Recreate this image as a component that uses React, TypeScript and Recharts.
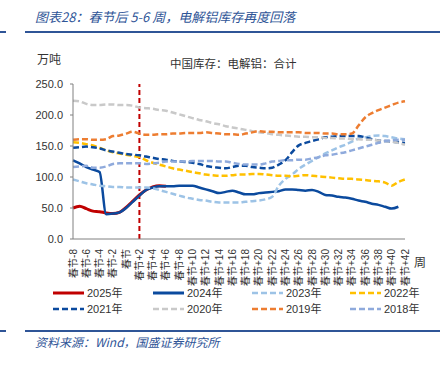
import { LineChart, Line, XAxis, YAxis, ReferenceLine } from 'recharts';

// 春节前后周次（-8 到 +42）
const weeks = [
  '春节-8', '春节-7', '春节-6', '春节-5', '春节-4', '春节-3', '春节-2', '春节-1', '春节',
  '春节+1', '春节+2', '春节+3', '春节+4', '春节+5', '春节+6', '春节+7', '春节+8', '春节+9',
  '春节+10', '春节+11', '春节+12', '春节+13', '春节+14', '春节+15', '春节+16', '春节+17',
  '春节+18', '春节+19', '春节+20', '春节+21', '春节+22', '春节+23', '春节+24', '春节+25',
  '春节+26', '春节+27', '春节+28', '春节+29', '春节+30', '春节+31', '春节+32', '春节+33',
  '春节+34', '春节+35', '春节+36', '春节+37', '春节+38', '春节+39', '春节+40', '春节+41',
  '春节+42',
];
const yTicks = [0, 50, 100, 150, 200, 250];
const markWeek = '春节+2';

const v2025 = [50, 53, 49, 45, 44, 42, 41, 43, 51, 61, 71, 79, 84, 86, 85];
const v2024 = [
  127, 122, 116, 112, 108, 40, 41, 43, 50, 60, 70, 79, 83, 85, 85, 85, 86, 86, 86, 83,
  80, 77, 74, 76, 78, 75, 72, 72, 74, 75, 76, 77, 80, 80, 79, 78, 79, 76, 71, 70,
  68, 67, 65, 62, 60, 57, 55, 52, 49, 52,
];
const v2023 = [
  96, 93, 90, 88, 86, 85, 84, 84, 83, 83, 83, 83, 82, 79, 76, 73, 70, 67, 65, 63,
  62, 60, 59, 59, 59, 59, 60, 61, 62, 64, 68, 86, 97, 104, 113, 120, 126, 132, 138, 143,
  148, 152, 157, 162, 164, 166, 167, 166, 164, 162, 161,
];
const v2022 = [
  156, 155, 153, 151, 147, 143, 140, 138, 136, 134, 132, 127, 123, 120, 117, 114, 112, 110, 108, 106,
  104, 103, 102, 102, 103, 104, 104, 105, 105, 104, 103, 102, 102, 101, 102, 103, 102, 101, 100, 99,
  98, 97, 97, 96, 95, 94, 93, 91, 86, 92, 96,
];
const v2021 = [
  147, 148, 149, 148, 146, 143, 141, 139, 137, 136, 135, 133, 131, 129, 128, 126, 125, 124, 123, 121,
  118, 116, 115, 114, 116, 118, 118, 116, 115, 114, 115, 120, 127, 140, 151, 155, 158, 161, 164, 165,
  166, 166, 166, 166, 164, 161, 159, 158, 157, 156, 155,
];
const v2020 = [
  223, 222, 218, 216, 216, 217, 217, 216, 216, 215, 212, 211, 210, 208, 207, 204, 201, 198, 195, 192,
  190, 187, 185, 182, 180, 178, 176, 174, 172, 171, 169, 168, 167, 166, 165, 165, 164, 164, 163, 163,
  162, 162, 161, 161, 160, 160, 159, 158, 157, 155, 152,
];
const v2019 = [
  160, 161, 161, 160, 160, 161, 166, 167, 170, 173, 170, 168, 168, 169, 169, 170, 170, 171, 171, 171,
  172, 171, 170, 169, 169, 168, 170, 172, 174, 173, 173, 172, 172, 172, 172, 171, 171, 171, 170, 170,
  169, 169, 170, 183, 196, 203, 208, 212, 216, 220, 222,
];
const v2018 = [
  116, 117, 118, 115, 115, 117, 121, 122, 122, 122, 122, 121, 122, 123, 125, 125, 125, 125, 126, 126,
  126, 126, 125, 125, 123, 121, 120, 120, 120, 122, 125, 126, 127, 127, 128, 128, 130, 132, 135, 136,
  138, 140, 143, 146, 149, 152, 155, 158, 159, 160, 160,
];

const series = [
  { name: '2025年', values: v2025, color: '#C00000', dash: undefined, width: 3 },
  { name: '2024年', values: v2024, color: '#0B4A9E', dash: undefined, width: 2.5 },
  { name: '2023年', values: v2023, color: '#9DC3E6', dash: '6 3', width: 2.5 },
  { name: '2022年', values: v2022, color: '#FFC000', dash: '6 3', width: 2.5 },
  { name: '2021年', values: v2021, color: '#0B4A9E', dash: '6 3', width: 2.5 },
  { name: '2020年', values: v2020, color: '#C9C9C9', dash: '6 3', width: 2.5 },
  { name: '2019年', values: v2019, color: '#ED7D31', dash: '6 3', width: 2.5 },
  { name: '2018年', values: v2018, color: '#8FAADC', dash: '6 3', width: 2.5 },
];

const data = weeks.map((w, i) => {
  const row: any = { week: w };
  series.forEach((s) => {
    if (i < s.values.length) row[s.name] = s.values[i];
  });
  return row;
});

const sans = '"Liberation Sans", Arial, "Noto Sans CJK SC", sans-serif';
const cjk = '"Noto Sans CJK SC", "Liberation Sans", sans-serif';
const blue = '#2F5597';

function WeekTick(props: any) {
  const { x, y, payload } = props;
  const ty = y + 2;
  return (
    <text
      x={x}
      y={ty}
      transform={`rotate(-90 ${x} ${ty})`}
      textAnchor="end"
      dominantBaseline="central"
      fontSize={10}
      fontFamily={sans}
      fill="#333"
    >
      {payload.value}
    </text>
  );
}

function LegendBox() {
  const cols = [53, 153, 252, 350];
  const rows = [293, 309];
  return (
    <svg width={444} height={30} style={{ position: 'absolute', left: 0, top: 285 }}>
      {series.map((s, i) => {
        const x = cols[i % 4];
        const y = rows[Math.floor(i / 4)] - 285;
        return (
          <g key={s.name}>
            <line
              x1={x}
              x2={x + 31}
              y1={y}
              y2={y}
              stroke={s.color}
              strokeWidth={s.dash ? 2.5 : 3}
              strokeDasharray={s.dash}
            />
            <text x={x + 34} y={y} dominantBaseline="central" fontSize={11} fontFamily={sans} fill="#333">
              {s.name}
            </text>
          </g>
        );
      })}
    </svg>
  );
}

export default function App() {
  return (
    <div style={{ position: 'absolute', left: 0, top: 0, width: 444, height: 365, background: '#fff' }}>
      <div
        style={{
          position: 'absolute', left: 35, top: 8, fontSize: 13, fontStyle: 'italic',
          color: blue, fontFamily: cjk, whiteSpace: 'nowrap', lineHeight: '18px',
        }}
      >
        图表28：春节后 5-6 周，电解铝库存再度回落
      </div>
      <div style={{ position: 'absolute', left: 0, top: 31, width: 6, height: 2, background: blue }} />
      <div style={{ position: 'absolute', left: 25, top: 31, width: 415, height: 2, background: blue }} />

      <div style={{ position: 'absolute', left: 37, top: 51, fontSize: 12, fontFamily: cjk, color: '#333', lineHeight: '16px' }}>
        万吨
      </div>
      <div
        style={{
          position: 'absolute', left: 170, top: 55, fontSize: 11.5, fontFamily: cjk, color: '#333',
          lineHeight: '16px', whiteSpace: 'nowrap',
        }}
      >
        中国库存：电解铝：合计
      </div>

      <div style={{ position: 'absolute', left: 0, top: 0 }}>
        <LineChart width={444} height={365} data={data} margin={{ top: 84, right: 39, bottom: 86, left: 33 }}>
          <XAxis
            dataKey="week"
            interval={1}
            tickLine={false}
            axisLine={{ stroke: '#808080' }}
            height={40}
            tick={(p: any) => <WeekTick {...p} />}
          />
          <YAxis
            domain={[0, 250]}
            ticks={yTicks}
            width={40}
            tickSize={3}
            tickMargin={7}
            tickFormatter={(v: number) => v.toFixed(1)}
            axisLine={{ stroke: '#808080' }}
            tickLine={{ stroke: '#808080' }}
            tick={{ fontSize: 11, fill: '#333', fontFamily: sans }}
          />
          <ReferenceLine x={markWeek} stroke="#C00000" strokeWidth={2} strokeDasharray="5 3" />
          {series.map((s) => (
            <Line
              key={s.name}
              dataKey={s.name}
              type="monotone"
              stroke={s.color}
              strokeWidth={s.width}
              strokeDasharray={s.dash}
              dot={false}
              activeDot={false}
              isAnimationActive={false}
            />
          ))}
        </LineChart>
      </div>

      <div style={{ position: 'absolute', left: 414, top: 254, fontSize: 12, fontFamily: cjk, color: '#333', lineHeight: '16px' }}>
        周
      </div>

      <LegendBox />

      <div style={{ position: 'absolute', left: 0, top: 330, width: 6, height: 2, background: blue }} />
      <div style={{ position: 'absolute', left: 25, top: 330, width: 415, height: 2, background: blue }} />
      <div
        style={{
          position: 'absolute', left: 35, top: 333, fontSize: 12, fontStyle: 'italic',
          color: blue, fontFamily: cjk, whiteSpace: 'nowrap', lineHeight: '18px',
        }}
      >
        资料来源：Wind，国盛证券研究所
      </div>
    </div>
  );
}
